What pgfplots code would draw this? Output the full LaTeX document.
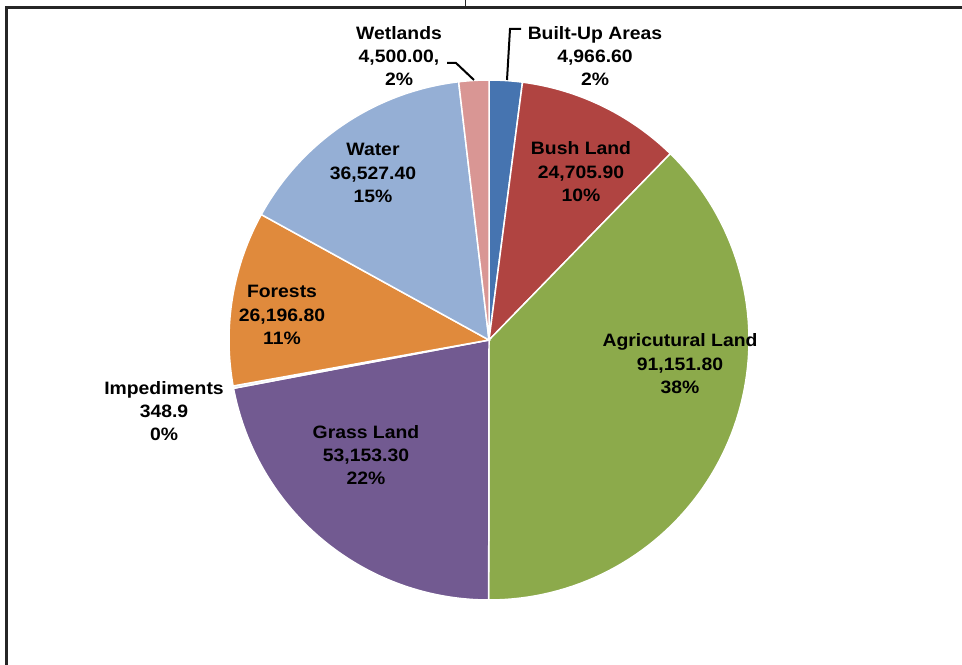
\documentclass[border=0pt]{standalone}
\usepackage{pgfplots}
\pgfplotsset{compat=1.18}
\usepackage{pgfplotstable}
\usepackage{fontspec}
\setmainfont{Liberation Sans}[FakeStretch=1.08]

\definecolor{cBuilt}{HTML}{4674B0}
\definecolor{cBush}{HTML}{B04441}
\definecolor{cAgri}{HTML}{8CAA4B}
\definecolor{cGrass}{HTML}{725A91}
\definecolor{cImped}{HTML}{DCE6F0}
\definecolor{cForest}{HTML}{E08A3C}
\definecolor{cWater}{HTML}{95AFD5}
\definecolor{cWet}{HTML}{D99694}

\tikzset{lbl/.style={font=\fontsize{18}{23.5}\selectfont\bfseries, align=center, inner sep=0pt}}

% land use, clockwise from 12 o'clock
\pgfplotstableread{
name value col
BuiltUp 4966.60 cBuilt
Bush 24705.90 cBush
Agri 91151.80 cAgri
Grass 53153.30 cGrass
Imped 348.9 cImped
Forests 26196.80 cForest
Water 36527.40 cWater
Wetlands 4500.00 cWet
}\landuse

\begin{document}
\begin{tikzpicture}
\def\total{0}
\pgfplotsforeachungrouped \i in {0,...,7}{%
  \pgfplotstablegetelem{\i}{value}\of\landuse
  \edef\total{\fpeval{\total+\pgfplotsretval}}%
}
\def\cum{0}
\begin{axis}[
    width=962bp, height=665bp, scale only axis,
    xmin=0, xmax=962, ymin=0, ymax=665,
    y dir=reverse,
    hide axis, clip=false,
  ]
  \pgfplotsforeachungrouped \i in {0,...,7}{%
    \pgfplotstablegetelem{\i}{value}\of\landuse \let\sliceval\pgfplotsretval
    \pgfplotstablegetelem{\i}{col}\of\landuse \let\slicecol\pgfplotsretval
    \edef\angA{\fpeval{360*\cum/\total}}%
    \edef\cum{\fpeval{\cum+\sliceval}}%
    \edef\angB{\fpeval{360*\cum/\total}}%
    \edef\temp{\noexpand\addplot[draw=white, line width=1.5pt, fill=\slicecol,
        domain=\angA:\angB, samples=80]
      ({489+260*sin(x)},{340-260*cos(x)}) -- (axis cs:489,340) -- cycle;}%
    \temp
  }

  % frame
  \draw[line width=3bp, black!85] (6,665) -- (6,7.5) -- (962,7.5);
  \draw[line width=1bp, black!85] (465,0) -- (465,7.5);

  % leader lines
  \draw[line width=2bp] (521,29) -- (510,29) -- (507,80);
  \draw[line width=2bp] (447,63) -- (456,63) -- (474,80);

  % labels
  \node[lbl] at (axis cs:399,56) {Wetlands\\4,500.00,\\2\%};
  \node[lbl] at (axis cs:595,56) {Built-Up Areas\\4,966.60\\2\%};
  \node[lbl] at (axis cs:373,173) {Water\\36,527.40\\15\%};
  \node[lbl] at (axis cs:581,172) {Bush Land\\24,705.90\\10\%};
  \node[lbl] at (axis cs:680,364) {Agricutural Land\\91,151.80\\38\%};
  \node[lbl] at (axis cs:282,315) {Forests\\26,196.80\\11\%};
  \node[lbl] at (axis cs:164,411) {Impediments\\348.9\\0\%};
  \node[lbl] at (axis cs:366,455) {Grass Land\\53,153.30\\22\%};
\end{axis}
\pgfresetboundingbox
\path[use as bounding box] (0,0) rectangle (962bp,665bp);
\end{tikzpicture}
\end{document}
